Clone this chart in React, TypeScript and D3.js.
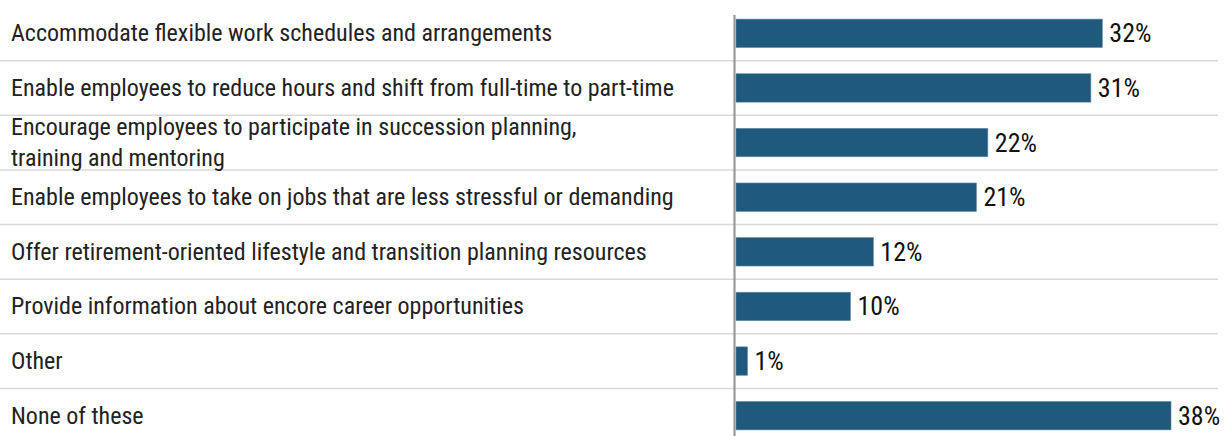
import React from "react";
import * as d3 from "d3";

const categories = [
  "Accommodate flexible work schedules and arrangements",
  "Enable employees to reduce hours and shift from full-time to part-time",
  "Encourage employees to participate in succession planning,\ntraining and mentoring",
  "Enable employees to take on jobs that are less stressful or demanding",
  "Offer retirement-oriented lifestyle and transition planning resources",
  "Provide information about encore career opportunities",
  "Other",
  "None of these",
];
const values = [32, 31, 22, 21, 12, 10, 1, 38];

const width = 1225;
const height = 436;
const font = "'Liberation Sans Narrow', 'Arial Narrow', 'Roboto Condensed', sans-serif";

const App = () => {
  const x = d3.scaleLinear().domain([0, 38]).range([736, 1171]);

  const y = d3
    .scaleBand()
    .domain(categories)
    .range([6, 443])
    .paddingInner(0.48)
    .paddingOuter(0.24);

  const step = y.step();

  return (
    <svg width={width} height={height} style={{ position: "absolute", left: 0, top: 0 }}>
      {/* row separators */}
      {categories.slice(1).map((c, i) => {
        const gy = y(c)! - (step - y.bandwidth()) / 2;
        return (
          <line key={"g" + i} x1={0} x2={1218} y1={gy} y2={gy} stroke="#d9d9d9" strokeWidth={1.5} />
        );
      })}

      {categories.map((c, i) => {
        const lines = c.split("\n");
        const cy = y(c)! + y.bandwidth() / 2;
        const lh = 31;
        return (
          <g key={"r" + i}>
            <text
              x={11}
              y={cy - ((lines.length - 1) * lh) / 2}
              fontFamily={font}
              fontSize={24}
              fill="#222"
              dominantBaseline="central"
            >
              {lines.map((l, j) => (
                <tspan key={j} x={11} dy={j === 0 ? 0 : lh}>
                  {l}
                </tspan>
              ))}
            </text>
            <rect
              x={x(0)}
              y={y(c)}
              width={x(values[i]) - x(0)}
              height={y.bandwidth()}
              fill="#1f5a7c"
              stroke="#5f89a6"
              strokeWidth={0.6}
            />
            <text
              x={x(values[i]) + 7}
              y={cy}
              fontFamily={font}
              fontSize={26}
              fill="#111"
              dominantBaseline="central"
            >
              {values[i] + "%"}
            </text>
          </g>
        );
      })}

      {/* axis line */}
      <line x1={734.5} x2={734.5} y1={15} y2={height} stroke="#999" strokeWidth={2.2} />
    </svg>
  );
};

export default App;
